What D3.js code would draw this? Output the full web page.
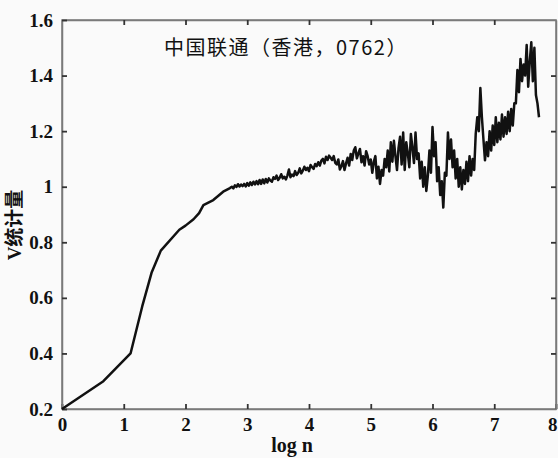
<!DOCTYPE html>
<html><head><meta charset="utf-8">
<script src="https://cdn.jsdelivr.net/npm/d3@7"></script>
<style>
html,body{margin:0;padding:0;background:#fafafa;}
svg{display:block;}
</style></head>
<body>
<script>
const title = "中国联通（香港，0762）";
const xLabel = "log n";
const yLabel = "V统计量";
const xTicks = [0,1,2,3,4,5,6,7,8];
const yTicks = [0.2,0.4,0.6,0.8,1,1.2,1.4,1.6];
const yTickLabels = ["0.2","0.4","0.6","0.8","1","1.2","1.4","1.6"];

const logN = [
 0,0.67,1.11,1.3,1.45,1.6,1.9,2.0,2.13,2.22,2.29,2.45,2.61,2.72,
 2.75,2.775,2.8,2.825,2.85,2.875,2.9,2.925,
 2.95,2.975,3.0,3.025,3.05,3.075,3.1,3.125,
 3.15,3.175,3.2,3.225,3.25,3.275,3.3,3.325,
 3.35,3.375,3.4,3.425,3.45,3.475,3.5,3.525,
 3.55,3.575,3.6,3.625,3.65,3.675,3.7,3.725,
 3.75,3.775,3.8,3.825,3.85,3.875,3.9,3.925,
 3.95,3.975,4.0,4.025,4.05,4.075,4.1,4.125,
 4.15,4.175,4.2,4.225,4.25,4.275,4.3,4.325,
 4.35,4.375,4.4,4.425,4.45,4.475,4.5,4.525,
 4.55,4.575,4.6,4.625,4.65,4.675,4.7,4.725,
 4.75,4.775,4.8,4.825,4.85,4.875,4.9,4.925,
 4.95,4.975,5.0,5.025,5.05,5.075,5.1,5.125,
 5.15,5.175,5.2,5.225,5.25,5.275,5.3,5.325,
 5.35,5.375,5.4,5.425,5.45,5.475,5.5,5.525,
 5.55,5.575,5.6,5.625,5.65,5.675,5.7,5.725,
 5.75,5.775,5.8,5.825,5.85,5.875,5.9,5.925,
 5.95,5.975,6.0,6.025,6.05,6.075,6.1,6.125,
 6.15,6.175,6.2,6.225,6.25,6.275,6.3,6.325,
 6.35,6.375,6.4,6.425,6.45,6.475,6.5,6.525,
 6.55,6.575,6.6,6.625,6.65,6.675,6.7,6.725,
 6.75,6.775,6.8,6.825,6.85,6.875,6.9,6.925,
 6.95,6.975,7.0,7.025,7.05,7.075,7.1,7.125,
 7.15,7.175,7.2,7.225,7.25,7.275,7.3,7.325,
 7.35,7.375,7.4,7.425,7.45,7.475,7.5,7.525,
 7.55,7.575,7.6,7.625,7.65,7.675,7.7,7.725
];
const vStat = [
 0.20,0.30,0.40,0.57,0.69,0.77,0.845,0.86,0.883,0.905,0.934,0.952,0.982,0.995,
 1.000,0.994,1.005,0.999,1.009,1.001,1.008,1.002,
 1.010,1.001,1.013,1.004,1.016,1.006,1.018,1.008,
 1.020,1.009,1.024,1.010,1.026,1.012,1.028,1.015,
 1.030,1.022,1.018,1.034,1.028,1.040,1.024,1.032,
 1.045,1.030,1.036,1.026,1.040,1.062,1.034,1.044,
 1.038,1.056,1.042,1.050,1.066,1.048,1.058,1.072,
 1.060,1.068,1.056,1.078,1.070,1.064,1.082,1.074,
 1.088,1.076,1.094,1.100,1.084,1.108,1.096,1.112,
 1.104,1.096,1.110,1.086,1.080,1.098,1.062,1.074,
 1.092,1.060,1.084,1.104,1.076,1.118,1.096,1.130,
 1.142,1.102,1.120,1.136,1.088,1.110,1.076,1.128,
 1.110,1.080,1.098,1.050,1.090,1.110,1.030,1.072,
 1.010,1.060,1.040,1.100,1.070,1.130,1.055,1.160,
 1.090,1.165,1.110,1.060,1.140,1.180,1.080,1.195,
 1.060,1.160,1.120,1.070,1.190,1.140,1.085,1.195,
 1.100,1.120,1.030,1.090,1.000,1.070,0.985,1.040,
 1.130,1.050,1.215,1.110,1.160,1.020,1.070,0.970,
 1.020,0.925,1.050,1.040,1.195,1.100,1.170,1.070,
 1.130,1.030,1.100,1.000,1.070,0.990,1.060,1.010,
 1.090,1.020,1.110,1.040,1.100,1.060,1.190,1.250,
 1.200,1.355,1.250,1.170,1.095,1.160,1.110,1.200,
 1.130,1.220,1.150,1.250,1.160,1.230,1.170,1.260,
 1.180,1.250,1.190,1.270,1.200,1.280,1.220,1.300,
 1.300,1.420,1.340,1.460,1.380,1.440,1.400,1.510,
 1.360,1.450,1.520,1.380,1.500,1.330,1.300,1.250
];

const W = 558, H = 458;
const m = {left:62, right:556, top:20, bottom:409};
const svg = d3.select("body").append("svg").attr("width",W).attr("height",H)
  .style("background","#fafafa");
const x = d3.scaleLinear().domain([0,8]).range([m.left,m.right]);
const y = d3.scaleLinear().domain([0.2,1.6]).range([m.bottom,m.top]);
const axisColor = "#7a7a7a";
const tickFont = "'Liberation Serif','Times New Roman',serif";

// frame
svg.append("rect").attr("x",m.left).attr("y",m.top)
  .attr("width",m.right-m.left).attr("height",m.bottom-m.top)
  .attr("fill","none").attr("stroke",axisColor).attr("stroke-width",1.5);

// axes with inward ticks
const gx = svg.append("g").attr("transform",`translate(0,${m.bottom})`)
  .call(d3.axisBottom(x).tickValues(xTicks).tickSizeInner(-5).tickSizeOuter(0).tickPadding(12).tickFormat(d3.format("d")));
const gxt = svg.append("g").attr("transform",`translate(0,${m.top})`)
  .call(d3.axisTop(x).tickValues(xTicks.slice(1,-1)).tickSizeInner(-5).tickSizeOuter(0).tickFormat(""));
const gy = svg.append("g").attr("transform",`translate(${m.left},0)`)
  .call(d3.axisLeft(y).tickValues(yTicks).tickSizeInner(-5).tickSizeOuter(0).tickPadding(9)
  .tickFormat((d,i)=>yTickLabels[i]));
const gyr = svg.append("g").attr("transform",`translate(${m.right},0)`)
  .call(d3.axisRight(y).tickValues(yTicks.slice(1,-1)).tickSizeInner(-5).tickSizeOuter(0).tickFormat(""));
[gx,gxt,gy,gyr].forEach(g=>{
  g.select(".domain").attr("stroke",axisColor).attr("stroke-width",1.5);
  g.selectAll(".tick line").attr("stroke","#333").attr("stroke-width",1.8);
  g.selectAll("text").attr("font-family",tickFont).attr("font-size",19)
    .attr("font-weight","bold").attr("fill","#111");
});
gx.selectAll(".tick text").attr("dy","0.55em");
// keep the last x label inside the page
gx.selectAll(".tick text").filter(d=>d===8).attr("text-anchor","end").attr("dx","1");

// line
const line = d3.line().x((d,i)=>x(logN[i])).y(d=>y(d));
svg.append("path").datum(vStat).attr("d",line)
  .attr("fill","none").attr("stroke","#111").attr("stroke-width",2.5)
  .attr("stroke-linejoin","round");

// title
svg.append("text").attr("x",164).attr("y",55)
  .attr("font-family","'Noto Sans CJK SC',sans-serif").attr("font-size",20)
  .attr("letter-spacing",1.5)
  .attr("fill","#111").text(title);

// x label
svg.append("text").attr("x",292).attr("y",452).attr("text-anchor","middle")
  .attr("font-family",tickFont).attr("font-size",20).attr("font-weight","bold")
  .attr("fill","#111").text(xLabel);

// y label
svg.append("text").attr("transform","translate(21,225) rotate(-90)")
  .attr("text-anchor","middle")
  .attr("font-family","'Liberation Serif','Noto Sans CJK SC',serif").attr("font-size",19)
  .attr("font-weight","bold").attr("fill","#111").text(yLabel);
</script>
</body></html>
